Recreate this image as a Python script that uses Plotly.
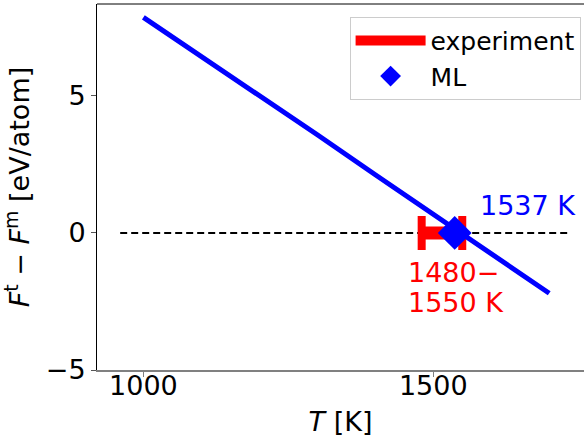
import plotly.graph_objects as go

# Data
T_line = [1000, 1100, 1200, 1300, 1400, 1500, 1600, 1700]
dF_line = [7.86, 6.45, 5.02, 3.58, 2.12, 0.68, -0.76, -2.2]
T_ref = [960, 1735]
zero_ref = [0, 0]
exp_range = [1480, 1550]
exp_zero = [0, 0]
ml_T = [1537]
ml_dF = [0]
x_ticks = [1000, 1500]
y_ticks = [-5, 0, 5]

FONT = "DejaVu Sans"
exp_mid = (exp_range[0] + exp_range[1]) / 2
exp_half = (exp_range[1] - exp_range[0]) / 2

fig = go.Figure()
fig.add_trace(go.Scatter(x=T_ref, y=zero_ref, mode="lines",
                         line=dict(color="black", width=2, dash="7px,4px"),
                         showlegend=False, hoverinfo="skip"))
fig.add_trace(go.Scatter(x=exp_range, y=exp_zero, mode="lines",
                         line=dict(color="red", width=13),
                         name="experiment"))
fig.add_trace(go.Scatter(x=[exp_mid], y=[0], mode="markers",
                         marker=dict(size=1, opacity=0),
                         error_x=dict(type="data", array=[exp_half], color="red",
                                      thickness=8, width=17),
                         showlegend=False, hoverinfo="skip"))
fig.add_trace(go.Scatter(x=T_line, y=dF_line, mode="lines",
                         line=dict(color="blue", width=5),
                         showlegend=False))
fig.add_trace(go.Scatter(x=ml_T, y=ml_dF, mode="markers",
                         marker=dict(symbol="diamond", size=26, color="blue"),
                         name="ML"))

fig.add_annotation(x=1577, y=0.99, text="1537 K", showarrow=False,
                   xanchor="left", yanchor="middle",
                   font=dict(family=FONT, size=27, color="blue"))
fig.add_annotation(x=1453, y=-1.44, text="1480−", showarrow=False,
                   xanchor="left", yanchor="middle",
                   font=dict(family=FONT, size=27, color="red"))
fig.add_annotation(x=1453, y=-2.55, text="1550 K", showarrow=False,
                   xanchor="left", yanchor="middle",
                   font=dict(family=FONT, size=27, color="red"))

fig.add_shape(type="line", xref="paper", yref="paper", x0=0, x1=1, y0=1, y1=1,
              line=dict(color="black", width=1))

fig.update_layout(
    width=584, height=437,
    margin=dict(l=97, r=0, t=4, b=67),
    plot_bgcolor="white", paper_bgcolor="white",
    font=dict(family=FONT, size=27, color="black"),
    showlegend=True,
    legend=dict(x=0.993, y=0.965, xanchor="right", yanchor="top",
                bgcolor="rgba(255,255,255,0.8)", bordercolor="#cccccc", borderwidth=1,
                font=dict(family=FONT, size=25), itemwidth=70),
    xaxis=dict(range=[920, 1760], tickvals=x_ticks, showgrid=False, zeroline=False,
               showline=True, linecolor="#808080", linewidth=2, automargin=False,
               ticks="outside", ticklen=5, tickcolor="#808080", tickwidth=1,
               ticklabelstandoff=-14,
               title=dict(text="<i>T</i> [K]", font=dict(size=27), standoff=22)),
    yaxis=dict(range=[-5, 8.35], tickvals=y_ticks, showgrid=False, zeroline=False,
               showline=True, linecolor="black", linewidth=1, automargin=False,
               ticks="outside", ticklen=5, tickcolor="#555555", tickwidth=1,
               title=dict(text="<i>F</i><sup>t</sup> − <i>F</i><sup>m</sup> [eV/atom]",
                          font=dict(size=27), standoff=12)),
)

fig.write_html("out.html")
